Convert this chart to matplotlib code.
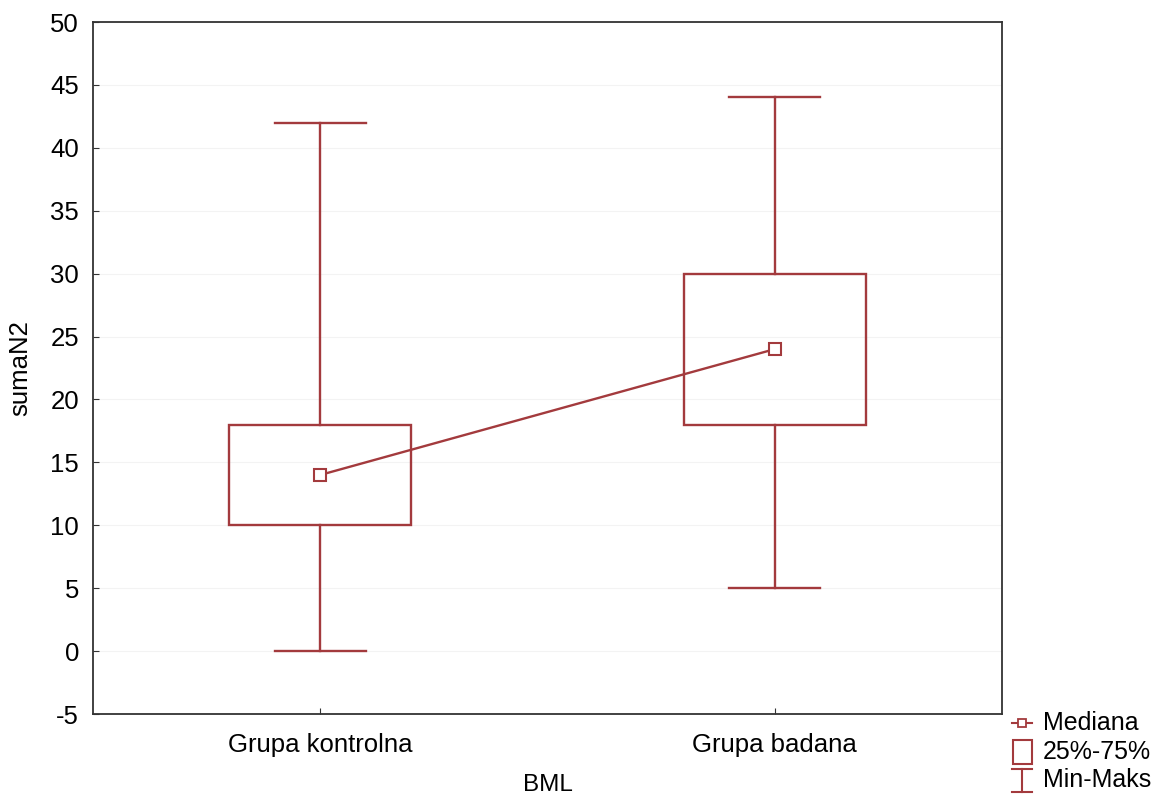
import matplotlib
matplotlib.use("Agg")
import matplotlib.pyplot as plt
from matplotlib.lines import Line2D
from matplotlib.patches import Rectangle

plt.rcParams['font.family'] = ['Liberation Sans', 'DejaVu Sans']
plt.rcParams['axes.unicode_minus'] = False

categories = ["Grupa kontrolna", "Grupa badana"]
medians = [14, 24]
q1 = [10, 18]
q3 = [18, 30]
mins = [0, 5]
maxs = [42, 44]
yticks = list(range(-5, 51, 5))
legend_labels = ["Mediana", "25%-75%", "Min-Maks"]

color = '#a33a3d'
W, H = 1157, 796

fig = plt.figure(figsize=(W / 100, H / 100), dpi=100)
ax = fig.add_axes([93 / W, 1 - 714 / H, 909 / W, 692 / H])

pos = list(range(len(categories)))
bw = 0.4
cw = 0.2
for i in pos:
    ax.add_patch(Rectangle((i - bw/2, q1[i]), bw, q3[i] - q1[i], fill=False,
                           edgecolor=color, lw=1.7, zorder=3))
    ax.plot([i, i], [q3[i], maxs[i]], color=color, lw=1.7, zorder=3)
    ax.plot([i, i], [mins[i], q1[i]], color=color, lw=1.7, zorder=3)
    ax.plot([i - cw/2, i + cw/2], [maxs[i], maxs[i]], color=color, lw=1.7, zorder=3)
    ax.plot([i - cw/2, i + cw/2], [mins[i], mins[i]], color=color, lw=1.7, zorder=3)
ax.plot(pos, medians, color=color, lw=1.7, marker='s', markersize=8,
        markerfacecolor='white', markeredgecolor=color, markeredgewidth=1.5, zorder=4)

ax.set_xlim(-0.5, 1.5)
ax.set_ylim(-5, 50)
ax.set_yticks(yticks)
ax.set_xticks(pos)
ax.set_xticklabels(categories)
ax.tick_params(axis='y', labelsize=18.5, length=4, direction='in', color='#333333', pad=10)
ax.tick_params(axis='x', labelsize=18.5, length=4, direction='in', color='#333333', pad=14)
ax.yaxis.grid(True, color='#f3f3f3', lw=0.8)
ax.set_axisbelow(True)
for s in ax.spines.values():
    s.set_color('#333333')
    s.set_linewidth(1.3)
ax.set_ylabel("sumaN2", fontsize=18.5, va='center')
ax.yaxis.set_label_coords((20 - 93) / 909, 0.5)
ax.set_xlabel("BML", fontsize=17.5, va='center')
ax.xaxis.set_label_coords(0.5, (714 - 785) / 692)

# legend (drawn in figure pixel coordinates)
def fx(px):
    return px / W

def fy(py):
    return 1 - py / H

tr = fig.transFigure
ys = [723, 752, 780]
text_x = 1043
for lab, yy in zip(legend_labels, ys):
    fig.text(fx(text_x), fy(yy), lab, fontsize=18, va='center', ha='left')
# median handle
fig.add_artist(Line2D([fx(1012), fx(1032)], [fy(ys[0]), fy(ys[0])], color=color, lw=1.5,
                      transform=tr))
fig.add_artist(Line2D([fx(1022)], [fy(ys[0])], marker='s', markersize=5.5, color=color,
                      markerfacecolor='white', markeredgecolor=color, markeredgewidth=1.3,
                      transform=tr))
# box handle
fig.add_artist(Rectangle((fx(1013), fy(ys[1] + 12)), 19 / W, 24 / H, fill=False,
                         edgecolor=color, lw=1.5, transform=tr))
# whisker handle
cx = 1022
y0, y1 = ys[2] - 11, ys[2] + 12
fig.add_artist(Line2D([fx(cx), fx(cx)], [fy(y0), fy(y1)], color=color, lw=1.5, transform=tr))
fig.add_artist(Line2D([fx(cx - 10), fx(cx + 10)], [fy(y0), fy(y0)], color=color, lw=1.5, transform=tr))
fig.add_artist(Line2D([fx(cx - 10), fx(cx + 10)], [fy(y1), fy(y1)], color=color, lw=1.5, transform=tr))

fig.savefig("out.png", dpi=100)
